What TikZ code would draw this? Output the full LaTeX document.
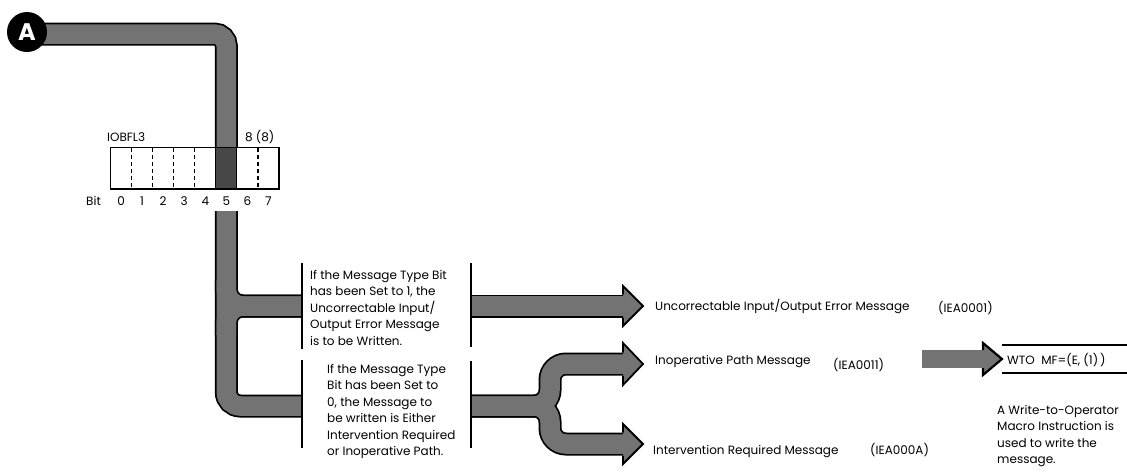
\documentclass[tikz,border=0pt]{standalone}
\usepackage{fontspec}
\setmainfont{Poppins}
\definecolor{hatch}{gray}{0.45}
\definecolor{hatchdark}{gray}{0.28}
\newcommand\mylines[1]{\parbox[t]{170pt}{\raggedright\fontsize{12}{16.5}\selectfont #1}}
\newcommand\bandpaths[1]{%
  \draw[#1, rounded corners=12pt] (a0) -- (c1) -- (regtop);
  \draw[#1, rounded corners=14pt] (vtop) -- (c2) -- (t2);
  \draw[#1, rounded corners=17pt] (226.3,280) -- (j1) -- (t1);
  \draw[#1, rounded corners=17pt] (226.3,335) -- (j1) -- (t1);
  \draw[#1] (s1) -- (e1);
  \draw[#1, rounded corners=16pt] (s2) -- (f0) -- (f1) -- (e2);
  \draw[#1, rounded corners=16pt] (s2) -- (f0) -- (f3) -- (e3);
}
\begin{document}
\begin{tikzpicture}[x=1pt,y=-1pt,
  lbl/.style={inner sep=0pt, anchor=base west, font=\fontsize{12}{14}\selectfont},
  digit/.style={inner sep=0pt, anchor=base, font=\fontsize{12}{14}\selectfont},
  vline/.style={line width=1.4pt},
  bandout/.style={line width=23pt, draw=black},
  bandin/.style={line width=19.5pt, draw=hatch},
  headline/.style={line width=1.8pt, line join=miter},
  regline/.style={line width=1.2pt}
]
\useasboundingbox (0,0) rectangle (1127,472);
% key coordinates
\coordinate (a0) at (27,34);
\coordinate (c1) at (226.3,34);
\coordinate (regtop) at (226.3,147.5);
\coordinate (vtop) at (226.3,211);
\coordinate (c2) at (226.3,406);
\coordinate (j1) at (226.3,306);
\coordinate (t1) at (302,306);
\coordinate (t2) at (302,406);
\coordinate (s1) at (471,306);
\coordinate (e1) at (623,306);
\coordinate (s2) at (471,406);
\coordinate (f0) at (550,406);
\coordinate (f1) at (550,364);
\coordinate (f3) at (550,444);
\coordinate (e2) at (623,364);
\coordinate (e3) at (623,444);
% bands
\bandpaths{bandout}
\bandpaths{bandin}
% arrowheads
\fill[hatch] (623,286) -- (643,306) -- (623,326) -- cycle;
\draw[headline] (623,294.5) -- (623,286) -- (643,306) -- (623,326) -- (623,317.5);
\fill[hatch] (623,343) -- (643,364) -- (623,385) -- cycle;
\draw[headline] (623,352.5) -- (623,343) -- (643,364) -- (623,385) -- (623,375.5);
\fill[hatch] (623,424) -- (643,444) -- (623,464) -- cycle;
\draw[headline] (623,432.5) -- (623,424) -- (643,444) -- (623,464) -- (623,455.5);
% WTO arrow
\coordinate (w0) at (922,359);
\coordinate (w1) at (983,359);
\draw[line width=18pt, draw=hatch] (w0) -- (w1);
\fill[hatch] (983,343) -- (1002,359) -- (983,375) -- cycle;
\draw[line width=2.2pt, line join=miter] (983,350) -- (983,343) -- (1002,359) -- (983,375) -- (983,368);
% circle A
\node[circle, fill=black, minimum size=40pt, inner sep=0pt, text=white,
      font=\fontsize{24}{24}\selectfont\bfseries] (A) at (27,32) {A};
% register
\fill[hatchdark] (215.8,147.5) rectangle (236.8,189);
\draw[regline] (110.5,147.5) rectangle (279,189);
\foreach \i in {1,2,3,4,7}
  \draw[regline, dash pattern=on 4pt off 3pt] ({110.5+21.0625*\i},147.5) -- ({110.5+21.0625*\i},189);
\foreach \i in {5,6}
  \draw[regline] ({110.5+21.0625*\i},147.5) -- ({110.5+21.0625*\i},189);
\node[lbl] (iob) at (107,141.5) {IOBFL3};
\node[lbl] (len) at (245,141.5) {8 (8)};
\node[lbl] (bit) at (86,205) {Bit};
\foreach \i in {0,...,7}
  \node[digit] (d\i) at ({110.5+21.0625*(\i+0.5)},205) {\i};
% separator lines
\coordinate (p1) at (302,263); \coordinate (p2) at (302,349);
\coordinate (p3) at (302,360); \coordinate (p4) at (302,448);
\coordinate (q1) at (471,263); \coordinate (q2) at (471,347);
\coordinate (q3) at (471,361); \coordinate (q4) at (471,448);
\draw[vline] (p1) -- (p2);
\draw[vline] (p3) -- (p4);
\draw[vline] (q1) -- (q2);
\draw[vline] (q3) -- (q4);
% condition texts
\node[inner sep=0pt, anchor=base west] (cond1) at (310,279)
  {\mylines{If the Message Type Bit\\has been Set to 1, the\\Uncorrectable Input/\\Output Error Message\\is to be Written.}};
\node[inner sep=0pt, anchor=base west] (cond0) at (327,373)
  {\mylines{If the Message Type\\Bit has been Set to\\0, the Message to\\be written is Either\\Intervention Required\\or Inoperative Path.}};
% message labels
\node[lbl] (m1) at (655,310) {Uncorrectable Input/Output Error Message};
\node[lbl] (id1) at (938,312) {(IEA0001)};
\node[lbl] (m2) at (655,364) {Inoperative Path Message};
\node[lbl] (id2) at (833,369) {(IEA0011)};
\node[lbl] (m3) at (653,454) {Intervention Required Message};
\node[lbl] (id3) at (870,454) {(IEA000A)};
% WTO box
\coordinate (b1) at (1002,345); \coordinate (b2) at (1127,345);
\coordinate (b3) at (1002,373); \coordinate (b4) at (1127,373);
\draw[regline] (b1) -- (b2);
\draw[regline] (b3) -- (b4);
\node[lbl] (wto) at (1007,364.5) {WTO\ \ MF=(E,\ (1)\,)};
\node[inner sep=0pt, anchor=base west] (note) at (997,414)
  {\mylines{A Write-to-Operator\\Macro Instruction is\\used to write the\\message.}};
\end{tikzpicture}
\end{document}
